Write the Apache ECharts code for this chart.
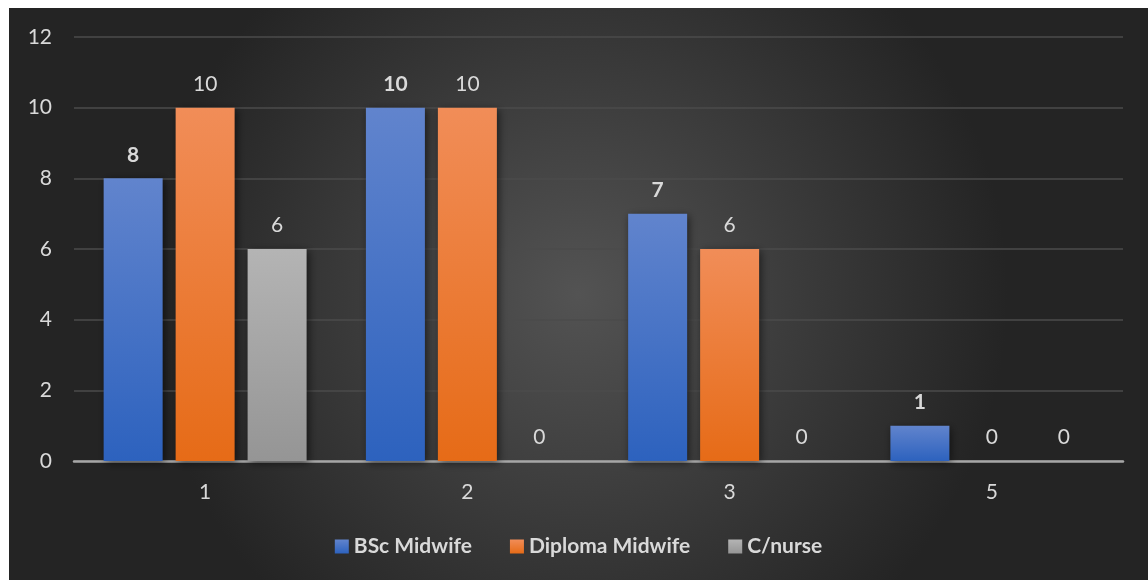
<!DOCTYPE html>
<html>
<head>
<meta charset="utf-8">
<script src="https://cdn.jsdelivr.net/npm/echarts@6/dist/echarts.min.js"></script>
<style>
html,body{margin:0;padding:0;background:#ffffff;width:1148px;height:580px;overflow:hidden;}
#chart{position:absolute;left:9px;top:8px;width:1139px;height:572px;}
</style>
</head>
<body>
<div id="chart"></div>
<script>
const categories = ['1', '2', '3', '5'];
const bscMidwife = [8, 10, 7, 1];
const diplomaMidwife = [10, 10, 6, 0];
const cNurse = [6, 0, 0, 0];
const yTicks = [0, 2, 4, 6, 8, 10, 12];

const FONT = 'Lato';
const TXT = '#d9d9d9';

function vGrad(top, bottom) {
  return new echarts.graphic.LinearGradient(0, 0, 0, 1, [
    { offset: 0, color: top },
    { offset: 1, color: bottom }
  ]);
}

const shadow = {
  shadowBlur: 8,
  shadowColor: 'rgba(0,0,0,0.55)',
  shadowOffsetX: 2,
  shadowOffsetY: 2
};

function barSeries(name, data, top, bottom, bold) {
  return {
    name: name,
    type: 'bar',
    data: data,
    barWidth: 59,
    barGap: '22%',
    itemStyle: Object.assign({ color: vGrad(top, bottom) }, shadow),
    label: {
      show: true,
      position: 'top',
      distance: 13,
      color: TXT,
      fontFamily: FONT,
      fontSize: 21,
      fontWeight: bold ? 'bold' : 'normal'
    },
    emphasis: { disabled: true }
  };
}

const chart = echarts.init(document.getElementById('chart'), null, { renderer: 'canvas' });
chart.setOption({
  animation: false,
  backgroundColor: {
    type: 'radial',
    x: 0.5, y: 0.5, r: 0.75,
    colorStops: [
      { offset: 0, color: '#535353' },
      { offset: 1, color: '#242424' }
    ]
  },
  textStyle: { fontFamily: FONT },
  grid: { left: 65, right: 25, top: 29, bottom: 119, containLabel: false },
  legend: {
    bottom: 18,
    left: 'center',
    itemWidth: 14,
    itemHeight: 14,
    itemGap: 38,
    icon: 'rect',
    textStyle: { color: TXT, fontFamily: FONT, fontSize: 21, fontWeight: 'bold' },
    data: ['BSc Midwife', 'Diploma Midwife', 'C/nurse']
  },
  xAxis: {
    type: 'category',
    data: categories,
    axisLine: { show: true, lineStyle: { color: '#a6a6a6', width: 2.5 } },
    axisTick: { show: false },
    axisLabel: { color: TXT, fontFamily: FONT, fontSize: 21, margin: 21 },
    splitLine: { show: false }
  },
  yAxis: {
    type: 'value',
    min: yTicks[0],
    max: yTicks[yTicks.length - 1],
    interval: 2,
    axisLine: { show: false },
    axisTick: { show: false },
    axisLabel: { color: TXT, fontFamily: FONT, fontSize: 21, margin: 22 },
    splitLine: { show: true, lineStyle: { color: '#4b4b4b', width: 1.5 } }
  },
  series: [
    barSeries('BSc Midwife', bscMidwife, '#6184cd', '#2d62be', true),
    barSeries('Diploma Midwife', diplomaMidwife, '#f18d58', '#e66b17', false),
    barSeries('C/nurse', cNurse, '#b4b4b4', '#959595', false)
  ]
});
</script>
</body>
</html>
